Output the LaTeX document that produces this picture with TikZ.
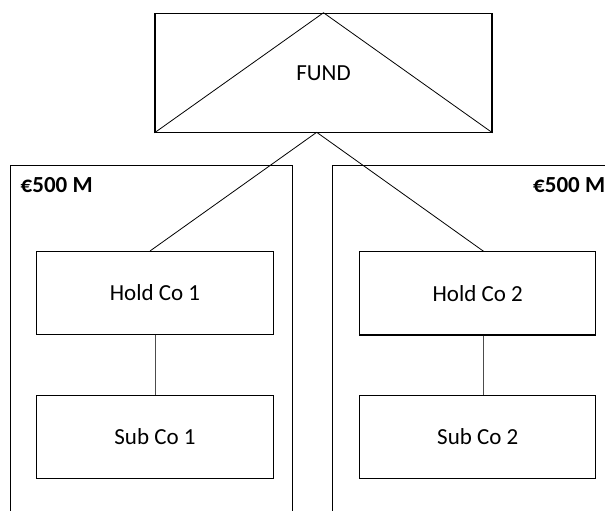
\documentclass[tikz,border=0pt]{standalone}
\usepackage{fontspec}
\setmainfont{Carlito}
\begin{document}
\begin{tikzpicture}[x=1pt,y=-1pt,
  box/.style={draw=black,line width=1.1pt,rectangle,inner sep=0pt,font=\fontsize{23}{27}\selectfont},
  link/.style={draw=black,line width=0.8pt},
  vlink/.style={draw=black!70,line width=1pt},
  amount/.style={anchor=base west,inner sep=0pt,font=\fontsize{23}{27}\selectfont\bfseries}]
\useasboundingbox (0,0) rectangle (605,511);
\clip (0,0) rectangle (605,511);
% outer groups
\draw[line width=1.1pt] (10.3,520) -- (10.3,165.5) -- (292.3,165.5) -- (292.3,520);
\draw[line width=1.1pt] (332.7,520) -- (332.7,165.5) -- (620,165.5);
\node[amount] (amt1) at (20.5,192.3) {€500 M};
\node[amount] (amt2) at (533,192.3) {€500 M};
% fund
\node[box,minimum width=337pt,minimum height=119pt] (fund) at (323.5,72.8) {FUND};
\draw[link] (fund.south west) -- (fund.north) -- (fund.south east);
% companies
\node[box,minimum width=236.7pt,minimum height=83.3pt] (hc1) at (155,292.7) {Hold Co 1};
\node[box,minimum width=236.7pt,minimum height=83pt] (sc1) at (155,436.8) {Sub Co 1};
\node[box,minimum width=236pt,minimum height=83.3pt] (hc2) at (477.8,293.3) {Hold Co 2};
\node[box,minimum width=236pt,minimum height=83pt] (sc2) at (477.8,436.8) {Sub Co 2};
% connectors
\coordinate (fb) at (316.7,132.3);
\coordinate (h1t) at (150,251);
\coordinate (h2t) at (484,251.6);
\draw[link] (fb) -- (h1t);
\draw[link] (fb) -- (h2t);
\draw[vlink] (hc1.south) -- (sc1.north);
\draw[vlink] ([xshift=6pt]hc2.south) -- ([xshift=6pt]sc2.north);
\end{tikzpicture}
\end{document}
